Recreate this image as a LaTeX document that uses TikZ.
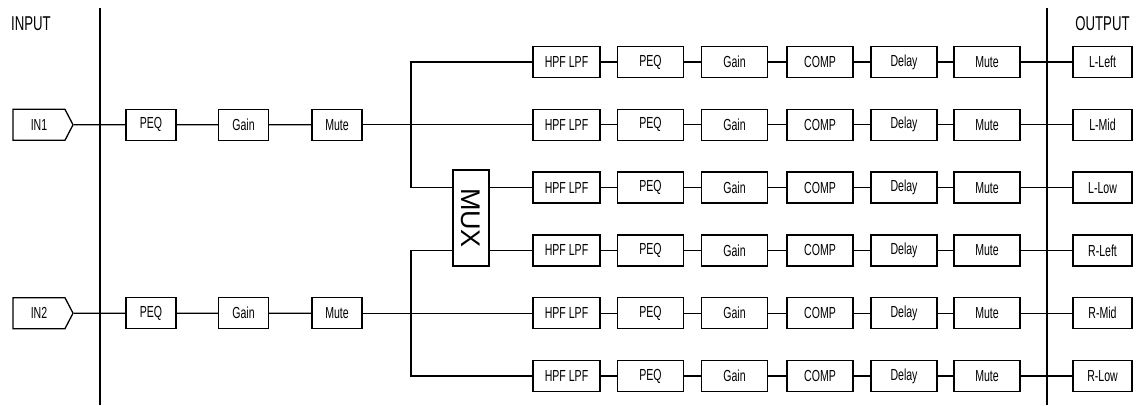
\documentclass[tikz,border=0pt]{standalone}
\usepackage{fontspec}
\usepackage{graphicx}
\setmainfont{Liberation Sans}[FakeStretch=0.66]
\newfontfamily\muxfont{Liberation Sans}
\usetikzlibrary{shapes.symbols}
\begin{document}
\begin{tikzpicture}[x=1pt,y=-1pt,
  ln/.style={line width=1.2pt},
  blk/.style={draw, line width=1.3pt, minimum height=31pt, inner sep=0pt,
    font=\fontsize{16}{16}\selectfont},
  ioblk/.style={blk, minimum width=50pt},
  chblk/.style={blk, minimum width=66pt},
  outblk/.style={blk, minimum width=59pt},
  insig/.style={draw, shape=signal, signal to=east, signal pointer angle=125,
    minimum width=60pt, minimum height=31pt, inner sep=0pt, line width=1.3pt,
    font=\fontsize{16}{16}\selectfont},
  title/.style={font=\fontsize{20}{20}\selectfont, inner sep=0pt},
]
\useasboundingbox (0,0) rectangle (1140,406);

% titles and divider lines
\node[title] (tin) at (31,23.5) {INPUT};
\node[title] (tout) at (1102.5,24) {OUTPUT};
\coordinate (vl1) at (100,8);
\coordinate (vl2) at (100,405);
\coordinate (vr1) at (1047,8);
\coordinate (vr2) at (1047,405);
\draw[ln] (vl1) -- (vl2);
\draw[ln] (vr1) -- (vr2);

% output chains
\foreach \r/\y/\o in {1/62/L-Left, 2/124.8/L-Mid, 3/187.6/L-Low,
                      4/250.4/R-Left, 5/313.2/R-Mid, 6/376/R-Low} {
  \node[blk, minimum width=67pt] (hpf\r) at (566.5,\y) {HPF LPF};
  \node[chblk] (peq\r) at (650.5,\y) {PEQ};
  \node[chblk] (gain\r) at (734.5,\y) {Gain};
  \node[chblk] (comp\r) at (820,\y) {COMP};
  \node[chblk] (delay\r) at (904,\y) {Delay};
  \node[chblk] (mute\r) at (987,\y) {Mute};
  \node[outblk] (out\r) at (1102.5,\y) {\o};
  \draw[ln] (hpf\r) -- (peq\r) -- (gain\r) -- (comp\r) -- (delay\r) -- (mute\r) -- (out\r);
}

% input chains
\foreach \i/\y in {1/124.8, 2/313.2} {
  \node[insig] (in\i) at (39,\y) {IN\i};
  \node[ioblk] (ipeq\i) at (151,\y) {PEQ};
  \node[ioblk] (igain\i) at (243.5,\y) {Gain};
  \node[ioblk] (imute\i) at (337,\y) {Mute};
  \draw[ln] (in\i) -- (ipeq\i) -- (igain\i) -- (imute\i);
}
\draw[ln] (imute1) -- (hpf2);
\draw[ln] (imute2) -- (hpf5);

% MUX
\node[draw, line width=1.3pt, minimum width=36pt, minimum height=96pt, inner sep=0pt]
  (mux) at (471,218) {\muxfont\fontsize{27}{27}\selectfont\rotatebox{-90}{MUX}};

% branches
\coordinate (b1) at (411,124.8);
\coordinate (b2) at (411,313.2);
\draw[ln] (hpf1.west) -| (b1) |- (mux.west |- hpf3);
\draw[ln] (hpf6.west) -| (b2) |- (mux.west |- hpf4);
\draw[ln] (mux.east |- hpf3) -- (hpf3.west);
\draw[ln] (mux.east |- hpf4) -- (hpf4.west);
\end{tikzpicture}
\end{document}
